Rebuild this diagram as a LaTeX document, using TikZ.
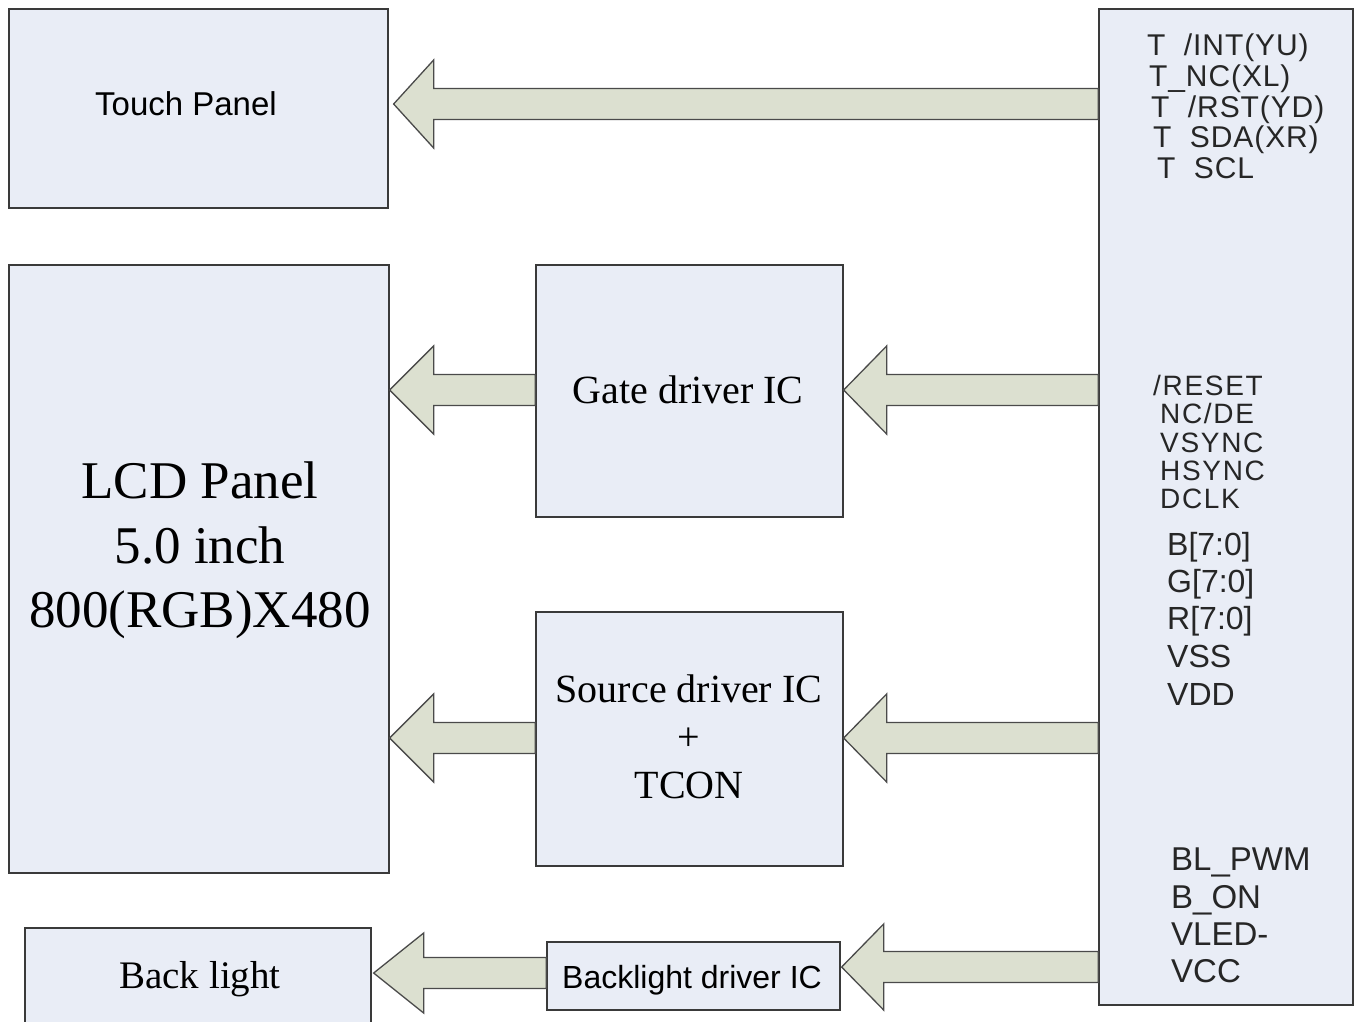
\documentclass[tikz,border=0pt]{standalone}
\usepackage{fontspec}
\setmainfont{Liberation Serif}
\newfontfamily\arialf{Liberation Sans}
\newfontfamily\arialsp{Liberation Sans}[LetterSpace=6]
\newfontfamily\arialspa{Liberation Sans}[LetterSpace=3]
\usetikzlibrary{calc}
\definecolor{boxfill}{HTML}{E9EDF6}
\definecolor{boxline}{HTML}{3A3A3A}
\definecolor{arrfill}{HTML}{DCE0D0}
\definecolor{arrline}{HTML}{4A4A4A}
\tikzset{
  blk/.style={draw=boxline, fill=boxfill, line width=1.3pt, inner sep=0pt},
  fatarrow/.style={draw=arrline, fill=arrfill, line width=1.3pt, line join=miter},
  serif/.style={font=\fontsize{#1}{#1}\selectfont, text=black, inner sep=0pt},
  sans/.style={font=\arialf\fontsize{#1}{#1}\selectfont, text=black, inner sep=0pt},
  pin/.style={anchor=base west, font=\arialf\fontsize{#1}{#1}\selectfont, text=black!85, inner sep=0pt},
  pinsp/.style={anchor=base west, font=\arialsp\fontsize{#1}{#1}\selectfont, text=black!85, inner sep=0pt},
  pinspa/.style={anchor=base west, font=\arialspa\fontsize{#1}{#1}\selectfont, text=black!85, inner sep=0pt}
}
% #1 tail x-node, #2 tip node, #3 y, #4 tip gap, #5 head length, #6 head half
\newcommand{\fatarr}[6]{%
  \coordinate (tip) at ($(#2.east |- 0,#3)+(#4,0)$);
  \coordinate (tail) at (#1.west |- 0,#3);
  \draw[fatarrow] (tip) -- ($(tip)+(#5,-#6)$) -- ($(tip)+(#5,-15.5)$) -- ($(tail)+(0,-15.5)$)
    -- ($(tail)+(0,15.5)$) -- ($(tip)+(#5,15.5)$) -- ($(tip)+(#5,#6)$) -- cycle;
}
\begin{document}
\begin{tikzpicture}[x=1pt,y=-1pt]
\useasboundingbox (0,0) rectangle (1357,1021);
\clip (0,0) rectangle (1357,1021);
\fill[white] (0,0) rectangle (1357,1021);

% boxes
\node[blk, minimum width=379pt, minimum height=199pt] (touch) at (198.5,108.5) {};
\node[blk, minimum width=380pt, minimum height=608pt] (lcd) at (199,569) {};
\node[blk, minimum width=307pt, minimum height=252pt] (gate) at (689.5,391) {};
\node[blk, minimum width=307pt, minimum height=254pt] (source) at (689.5,739) {};
\node[blk, minimum width=346pt, minimum height=112pt] (back) at (198,984) {};
\node[blk, minimum width=293pt, minimum height=68pt] (bldrv) at (693.5,976) {};
\node[blk, minimum width=254pt, minimum height=996pt] (conn) at (1226,507) {};

% arrows
\fatarr{conn}{touch}{104}{5}{40}{44}
\fatarr{conn}{gate}{390}{0}{43}{44}
\fatarr{gate}{lcd}{390}{0}{44}{44}
\fatarr{conn}{source}{738}{0}{43}{44}
\fatarr{source}{lcd}{738}{0}{44}{44}
\fatarr{conn}{bldrv}{967}{1}{42}{43}
\fatarr{bldrv}{back}{973}{2}{50}{40}

% texts
\node[sans=33, anchor=base] (ttouch) at (186,115) {Touch Panel};
\node[serif=53, anchor=base] (tlcdA) at (200,498) {LCD Panel};
\node[serif=53, anchor=base] (tlcdB) at (200,563) {5.0 inch};
\node[serif=53, anchor=base] (tlcdC) at (200,627) {800(RGB)X480};
\node[serif=40, anchor=base] (tgate) at (688,403) {Gate driver IC};
\node[serif=40, anchor=base] (tsrcA) at (689,702) {Source driver IC};
\node[serif=40, anchor=base] (tsrcB) at (689,750) {+};
\node[serif=40, anchor=base] (tsrcC) at (689,798) {TCON};
\node[serif=39, anchor=base] (tback) at (200,988) {Back light};
\node[sans=32, anchor=base] (tbldrv) at (692,988) {Backlight driver IC};

% pin labels
\node[pinspa=30] (p1) at (1147,55) {T\ \ /INT(YU)};
\node[pinspa=30] (p2) at (1149,86) {T\_NC(XL)};
\node[pinspa=30] (p3) at (1151,117) {T\ \ /RST(YD)};
\node[pinspa=30] (p4) at (1153,147) {T\ \ SDA(XR)};
\node[pinspa=30] (p5) at (1157,178) {T\ \ SCL};

\node[pinsp=28] (q1) at (1153,395) {/RESET};
\node[pinsp=28] (q2) at (1160,423) {NC/DE};
\node[pinsp=28] (q3) at (1160,452) {VSYNC};
\node[pinsp=28] (q4) at (1160,480) {HSYNC};
\node[pinsp=28] (q5) at (1160,508) {DCLK};
\node[pin=32] (q6) at (1167,555) {B[7:0]};
\node[pin=32] (q7) at (1167,592) {G[7:0]};
\node[pin=32] (q8) at (1167,629) {R[7:0]};
\node[pin=32] (q9) at (1167,667) {VSS};
\node[pin=32] (q10) at (1167,705) {VDD};

\node[pin=33] (r1) at (1171,870) {BL\_PWM};
\node[pin=33] (r2) at (1171,908) {B\_ON};
\node[pin=33] (r3) at (1171,945) {VLED-};
\node[pin=33] (r4) at (1171,982) {VCC};
\end{tikzpicture}
\end{document}
